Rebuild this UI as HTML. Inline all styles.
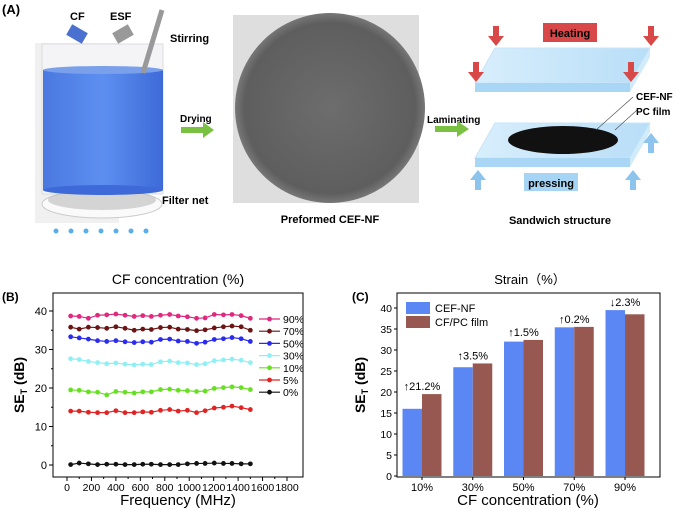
<!DOCTYPE html>
<html><head><meta charset="utf-8">
<style>
html,body{margin:0;padding:0;background:#fff;}
svg{display:block;font-family:"Liberation Sans",Arial,sans-serif;}
.b{font-weight:bold;}
</style></head>
<body>
<svg id="fig" width="685" height="510" viewBox="0 0 685 510">
<defs>
<linearGradient id="water" x1="0" x2="1" y1="0" y2="0">
<stop offset="0" stop-color="#4a78e0"/><stop offset="0.5" stop-color="#5d8ff0"/><stop offset="1" stop-color="#3d6ad8"/></linearGradient>
<linearGradient id="plate" x1="0" x2="1"><stop offset="0" stop-color="#d8eefc"/><stop offset="1" stop-color="#b8def8"/></linearGradient>
<radialGradient id="felt" cx="0.5" cy="0.5" r="0.5"><stop offset="0" stop-color="#6d6d6d"/><stop offset="0.9" stop-color="#5e5e5e"/><stop offset="1" stop-color="#777"/></radialGradient>
</defs>

<!-- Panel A -->
<g>
<text x="2" y="14" class="b" font-size="13">(A)</text>
<rect x="35" y="43" width="84" height="180" fill="#f0f0f0"/>
<rect x="42" y="44" width="121" height="150" fill="#f4f4f6" stroke="#ddd"/>
<ellipse cx="102" cy="204" rx="60" ry="14" fill="#fafafa" stroke="#ccc"/>
<ellipse cx="102" cy="200" rx="54" ry="10" fill="#bbb" opacity="0.6"/>
<rect x="43" y="70" width="120" height="120" fill="url(#water)"/>
<ellipse cx="103" cy="70" rx="60" ry="4" fill="#7aa0ec"/>
<ellipse cx="103" cy="190" rx="60" ry="5" fill="#3d6ad8"/>
<line x1="162" y1="10" x2="143" y2="73" stroke="#999" stroke-width="5"/>
<rect x="68" y="28" width="18" height="12" fill="#4a70d0" transform="rotate(30 77 34)"/>
<rect x="114" y="28" width="18" height="12" fill="#999" transform="rotate(-30 123 34)"/>
<text x="70" y="20" class="b" font-size="11">CF</text>
<text x="110" y="20" class="b" font-size="11">ESF</text>
<text x="170" y="42" class="b" font-size="11">Stirring</text>
<text x="162" y="204" class="b" font-size="11">Filter net</text>
<g fill="#5aaee8">
<circle cx="56" cy="231" r="2.5"/><circle cx="71" cy="231" r="2.5"/><circle cx="86" cy="231" r="2.5"/><circle cx="101" cy="231" r="2.5"/><circle cx="116" cy="231" r="2.5"/><circle cx="131" cy="231" r="2.5"/><circle cx="146" cy="231" r="2.5"/></g>
<text x="180" y="122" class="b" font-size="10">Drying</text>
<path d="M181 127 h22 v-5 l11 8 l-11 8 v-5 h-22z" fill="#7ac142"/>
<rect x="233" y="15" width="186" height="188" fill="#dedede"/>
<circle cx="330" cy="108" r="95" fill="url(#felt)"/>
<text x="330" y="223" class="b" font-size="11" text-anchor="middle">Preformed CEF-NF</text>
<text x="427" y="123" class="b" font-size="10">Laminating</text>
<path d="M435 126 h22 v-5 l12 8 l-12 8 v-5 h-22z" fill="#7ac142"/>
<rect x="543" y="23" width="54" height="19" fill="#d84848"/>
<text x="570" y="37" class="b" font-size="11" text-anchor="middle">Heating</text>
<polygon points="495,48 650,48 630,83 475,83" fill="url(#plate)" stroke="#c8e4f8"/>
<polygon points="475,83 630,83 630,92 475,92" fill="#a8d6f4"/>
<polygon points="630,83 650,48 650,57 630,92" fill="#d0ebfa"/>
<polygon points="495,123 650,123 630,158 475,158" fill="url(#plate)" stroke="#c8e4f8"/>
<polygon points="475,158 630,158 630,167 475,167" fill="#a8d6f4"/>
<polygon points="630,158 650,123 650,132 630,167" fill="#d0ebfa"/>
<ellipse cx="563" cy="140" rx="55" ry="14" fill="#111"/>
<g fill="#d84848">
<path d="M493 26 h6 v10 h5 l-8 10 l-8 -10 h5z"/><path d="M648 26 h6 v10 h5 l-8 10 l-8 -10 h5z"/>
<path d="M473 62 h6 v10 h5 l-8 10 l-8 -10 h5z"/><path d="M628 62 h6 v10 h5 l-8 10 l-8 -10 h5z"/></g>
<g fill="#8cc4ee">
<path d="M475 190 h6 v-10 h5 l-8 -10 l-8 10 h5z"/><path d="M630 190 h6 v-10 h5 l-8 -10 l-8 10 h5z"/>
<path d="M648 153 h6 v-10 h5 l-8 -10 l-8 10 h5z"/></g>
<rect x="524" y="173" width="54" height="18" fill="#a6d4f4"/>
<text x="551" y="187" class="b" font-size="11" text-anchor="middle">pressing</text>
<line x1="596" y1="130" x2="633" y2="97" stroke="#444" stroke-width="0.6"/>
<line x1="615" y1="130" x2="637" y2="110" stroke="#444" stroke-width="0.6"/>
<text x="636" y="100" class="b" font-size="10">CEF-NF</text>
<text x="636" y="115" class="b" font-size="10">PC film</text>
<text x="560" y="224" class="b" font-size="11" text-anchor="middle">Sandwich structure</text>
</g>

<g id="chartB"></g>
<g id="chartC"></g>
</svg>
<script>
const freqs=[30,100,175,250,325,400,475,550,620,690,765,840,910,985,1060,1130,1205,1280,1350,1425,1500];
const seriesNames=["90%","70%","50%","30%","10%","5%","0%"];
const s90=[38.7,38.6,38.1,38.9,39.0,39.2,38.9,38.6,38.8,38.6,38.9,39.1,38.7,38.5,38.1,38.2,39.1,39.0,39.1,38.8,38.1];
const s70=[35.8,35.3,35.8,35.7,35.5,35.9,35.5,35.0,35.3,35.2,35.7,35.8,35.3,35.2,34.9,35.1,35.6,35.9,36.1,35.9,35.0];
const s50=[33.3,33.0,32.7,32.3,32.1,32.3,32.0,31.8,32.0,31.9,32.6,32.7,32.2,32.1,31.6,31.9,32.6,32.8,33.1,32.8,32.1];
const s30=[27.6,27.4,26.9,26.6,26.3,26.5,26.2,26.0,26.2,26.1,26.8,27.0,26.6,26.5,26.1,26.3,27.1,27.3,27.5,27.2,26.6];
const s10=[19.5,19.4,19.0,18.9,18.2,19.1,18.9,18.7,19.0,19.0,19.6,19.7,19.4,19.3,19.1,19.2,19.9,20.1,20.3,20.1,19.6];
const s5=[14.0,14.0,13.7,13.6,13.6,14.1,13.6,13.6,13.8,13.7,14.2,14.4,14.0,14.2,13.6,14.1,14.8,15.0,15.3,14.9,14.4];
const s0=[0.1,0.5,0.3,0.1,0.2,0.2,0.1,0.1,0.2,0.2,0.1,0.1,0.1,0.3,0.4,0.4,0.5,0.4,0.4,0.3,0.3];
const bXTicks=[0,200,400,600,800,1000,1200,1400,1600,1800];
const bYTicks=[0,10,20,30,40];
const cCategories=["10%","30%","50%","70%","90%"];
const cefNF=[16.0,25.9,32.0,35.4,39.5];
const cfPC=[19.5,26.8,32.4,35.5,38.5];
const cNotes=["↑21.2%","↑3.5%","↑1.5%","↑0.2%","↓2.3%"];
const cYTicks=[0,5,10,15,20,25,30,35,40];

const NS="http://www.w3.org/2000/svg";
function mk(parent,tag,attrs,text){const e=document.createElementNS(NS,tag);for(const k in attrs)e.setAttribute(k,attrs[k]);if(text!==undefined)e.textContent=text;parent.appendChild(e);return e;}

// Chart B
(function(){
const g=document.getElementById('chartB');
const L=53,R=303,T=293,B=477;
const xs=v=>67+v*(220/1800);
const ys=v=>465-v*3.85;
const colors=["#e0287f","#6b1414","#2a2af0","#8ef0f4","#66e020","#e02424","#111"];
const data=[s90,s70,s50,s30,s10,s5,s0];
let t=mk(g,'text',{x:178,y:284,'font-size':14,'text-anchor':'middle'},'CF concentration (%)');


t=mk(g,'text',{x:2,y:301,'font-size':12,'font-weight':'bold'},'(B)');


const frame=mk(g,'rect',{x:L,y:T,width:R-L,height:B-T,fill:'none',stroke:'#000','stroke-width':1});


bYTicks.forEach(v=>{const y=ys(v);mk(g,'line',{x1:L-4,x2:L,y1:y,y2:y,stroke:'#000'});
 const l=mk(g,'text',{x:L-6,y:y+4,'font-size':11,'text-anchor':'end'},v);
 
 
 const m=ys(v+5);if(v<40)mk(g,'line',{x1:L-2,x2:L,y1:m,y2:m,stroke:'#000'});});
bXTicks.forEach(v=>{const x=xs(v);mk(g,'line',{x1:x,x2:x,y1:B,y2:B+4,stroke:'#000'});
 const l=mk(g,'text',{x:x,y:B+14,'font-size':10.5,'text-anchor':'middle'},v);
 
 
 if(v<1800){const m=xs(v+100);mk(g,'line',{x1:m,x2:m,y1:B,y2:B+2,stroke:'#000'});}});
t=mk(g,'text',{x:178,y:505,'font-size':15,'text-anchor':'middle'},'Frequency (MHz)');


t=mk(g,'text',{x:0,y:0,'font-size':14,'font-weight':'bold','text-anchor':'middle',transform:'translate(24,385) rotate(-90)'});


t.innerHTML='SE<tspan font-size="9" dy="3">T</tspan><tspan dy="-3"> (dB)</tspan>';
data.forEach((arr,i)=>{
 const pts=arr.map((v,j)=>xs(freqs[j])+','+ys(v)).join(' ');
 const pl=mk(g,'polyline',{points:pts,fill:'none',stroke:colors[i],'stroke-width':1.2});
 
 
 arr.forEach((v,j)=>{const c=mk(g,'circle',{cx:xs(freqs[j]),cy:ys(v),r:2.4,fill:colors[i]});
  
  });
 const ly=319+i*12.2;
 const le=mk(g,'g',{});
 
 
 mk(le,'line',{x1:259,x2:280,y1:ly,y2:ly,stroke:colors[i],'stroke-width':1.2});
 mk(le,'circle',{cx:269.5,cy:ly,r:2.4,fill:colors[i]});
 mk(le,'text',{x:283,y:ly+4,'font-size':10.5},seriesNames[i]);
});
})();

// Chart C
(function(){
const g=document.getElementById('chartC');
const L=397,R=660,T=293,B=477;
const ys=v=>476-v*4.2;
const xc=i=>422+i*50.75;
const bw=19.5;
let t=mk(g,'text',{x:530,y:284,'font-size':13,'text-anchor':'middle'},'Strain（%）');


t=mk(g,'text',{x:352,y:301,'font-size':12,'font-weight':'bold'},'(C)');


cCategories.forEach((c,i)=>{
 const x=xc(i);
 const b1=mk(g,'rect',{x:x-bw,y:ys(cefNF[i]),width:bw,height:ys(0)-ys(cefNF[i]),fill:'#5b87f5'});
 
 
 const b2=mk(g,'rect',{x:x,y:ys(cfPC[i]),width:bw,height:ys(0)-ys(cfPC[i]),fill:'#975852'});
 
 
 const n=mk(g,'text',{x:x,y:ys(Math.max(cefNF[i],cfPC[i]))-4,'font-size':11,'text-anchor':'middle'},cNotes[i]);
 
 
 mk(g,'line',{x1:x,x2:x,y1:B,y2:B+3,stroke:'#000'});
 const l=mk(g,'text',{x:x,y:B+14,'font-size':11,'text-anchor':'middle'},c);
 
 
});
const frame=mk(g,'rect',{x:L,y:T,width:R-L,height:B-T,fill:'none',stroke:'#000','stroke-width':1});


cYTicks.forEach(v=>{const y=ys(v);mk(g,'line',{x1:L-3,x2:L,y1:y,y2:y,stroke:'#000'});
 const l=mk(g,'text',{x:L-5,y:y+4,'font-size':10.5,'text-anchor':'end'},v);
 
 });
t=mk(g,'text',{x:528,y:505,'font-size':15,'text-anchor':'middle'},'CF concentration (%)');


t=mk(g,'text',{x:0,y:0,'font-size':14,'font-weight':'bold','text-anchor':'middle',transform:'translate(365,385) rotate(-90)'});


t.innerHTML='SE<tspan font-size="9" dy="3">T</tspan><tspan dy="-3"> (dB)</tspan>';
[['CEF-NF','#5b87f5',302],['CF/PC film','#975852',316]].forEach(e=>{
 const le=mk(g,'g',{});
 
 
 mk(le,'rect',{x:406,y:e[2],width:24,height:12,fill:e[1]});
 mk(le,'text',{x:435,y:e[2]+10,'font-size':11},e[0]);
});
})();
</script>
</body></html>
